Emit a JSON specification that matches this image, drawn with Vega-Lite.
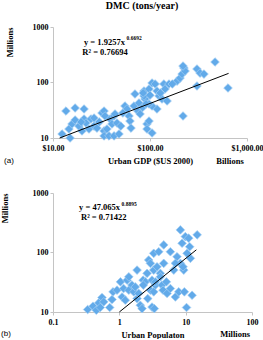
{
  "$schema": "https://vega.github.io/schema/vega-lite/v6.json",
  "padding": {"left": 0, "top": 1, "right": 0, "bottom": 0},
  "background": "white",
  "spacing": 23,
  "config": {
    "font": "Liberation Serif",
    "view": {"stroke": null},
    "axis": {
      "grid": false,
      "domainColor": "#c4c4c4",
      "tickColor": "#c4c4c4",
      "tickSize": 3,
      "labelFont": "Liberation Serif",
      "labelFontWeight": "bold",
      "labelFontSize": 8,
      "labelColor": "#000000",
      "titleFont": "Liberation Serif",
      "titleFontWeight": "bold",
      "titleFontSize": 8.5,
      "titleColor": "#000000",
      "labelFlush": false,
      "labelOverlap": false
    }
  },
  "vconcat": [
    {
      "width": 194,
      "height": 111,
      "title": {"text": "DMC (tons/year)", "font": "Liberation Serif", "fontSize": 10, "fontWeight": "bold", "color": "#000000", "offset": 12, "dx": -8},
      "layer": [
        {
          "data": {"values": [
            {"x": 12.4, "y": 11.8}, {"x": 15.0, "y": 10.0}, {"x": 13.6, "y": 30.6}, {"x": 14.6, "y": 14.5}, {"x": 15.7, "y": 17.9},
            {"x": 16.9, "y": 34.7}, {"x": 16.9, "y": 21.1}, {"x": 18.5, "y": 16.4}, {"x": 19.9, "y": 13.4}, {"x": 20.9, "y": 33.3},
            {"x": 20.9, "y": 22.0}, {"x": 21.9, "y": 18.6}, {"x": 23.5, "y": 14.5}, {"x": 24.6, "y": 22.0}, {"x": 26.5, "y": 16.4},
            {"x": 28.4, "y": 15.1}, {"x": 32.0, "y": 28.2}, {"x": 33.6, "y": 30.6}, {"x": 34.4, "y": 24.9}, {"x": 33.6, "y": 13.4},
            {"x": 33.6, "y": 10.9}, {"x": 36.0, "y": 14.5}, {"x": 37.8, "y": 10.9}, {"x": 38.7, "y": 22.0}, {"x": 40.6, "y": 17.9},
            {"x": 42.6, "y": 10.9}, {"x": 42.6, "y": 24.9}, {"x": 43.6, "y": 27.1}, {"x": 45.7, "y": 18.6}, {"x": 47.9, "y": 11.8},
            {"x": 55.2, "y": 37.7}, {"x": 57.9, "y": 33.3}, {"x": 60.8, "y": 24.9}, {"x": 62.2, "y": 20.2}, {"x": 63.7, "y": 15.1},
            {"x": 68.4, "y": 37.7}, {"x": 70.0, "y": 62.1}, {"x": 77.0, "y": 42.7}, {"x": 82.7, "y": 34.7}, {"x": 86.7, "y": 70.3},
            {"x": 88.8, "y": 50.4}, {"x": 93.1, "y": 17.9}, {"x": 97.7, "y": 20.2}, {"x": 93.1, "y": 14.5}, {"x": 105, "y": 12.3},
            {"x": 97.7, "y": 76.4}, {"x": 86.7, "y": 57.1}, {"x": 105, "y": 97.9}, {"x": 113, "y": 94.0}, {"x": 118, "y": 70.3},
            {"x": 124, "y": 57.1}, {"x": 133, "y": 50.4}, {"x": 139, "y": 94.0}, {"x": 143, "y": 76.4}, {"x": 157, "y": 94.0},
            {"x": 150, "y": 46.4}, {"x": 118, "y": 33.3}, {"x": 105, "y": 37.7}, {"x": 97.7, "y": 41.0}, {"x": 190, "y": 106},
            {"x": 204, "y": 120}, {"x": 214, "y": 142}, {"x": 224, "y": 182}, {"x": 230, "y": 161}, {"x": 219, "y": 198},
            {"x": 305, "y": 175}, {"x": 328, "y": 148}, {"x": 360, "y": 142}, {"x": 305, "y": 86.5}, {"x": 468, "y": 234},
            {"x": 637, "y": 79.6}, {"x": 219, "y": 24.9}, {"x": 75, "y": 30.6}, {"x": 79, "y": 27.1}, {"x": 91, "y": 41},
            {"x": 100, "y": 59}, {"x": 128, "y": 64.7}, {"x": 170, "y": 94}, {"x": 85, "y": 64.7}, {"x": 52.5, "y": 28.2},
            {"x": 50, "y": 16.4}, {"x": 30, "y": 19.4}, {"x": 26.5, "y": 22.9}, {"x": 19.5, "y": 19.4}
          ]},
          "mark": {"type": "point", "shape": "diamond", "filled": true, "size": 75, "fill": "#62aae9", "stroke": "#a3cff4", "strokeWidth": 0.7, "opacity": 1},
          "encoding": {
            "x": {"field": "x", "type": "quantitative", "scale": {"type": "log", "domain": [10, 1000]},
                  "axis": {"values": [10, 100, 1000], "format": "$,.2f", "title": "Urban GDP ($US 2000)", "labelPadding": 3, "titlePadding": 4}},
            "y": {"field": "y", "type": "quantitative", "scale": {"type": "log", "domain": [10, 1000]},
                  "axis": {"values": [10, 100, 1000], "format": "d", "title": "Millions", "titleAnchor": "end", "titlePadding": 18, "labelPadding": 2}}
          }
        },
        {
          "data": {"values": [{"x": 11.7, "y": 10.0}, {"x": 646, "y": 146}]},
          "mark": {"type": "line", "color": "#000000", "strokeWidth": 1},
          "encoding": {
            "x": {"field": "x", "type": "quantitative", "scale": {"type": "log", "domain": [10, 1000]}},
            "y": {"field": "y", "type": "quantitative", "scale": {"type": "log", "domain": [10, 1000]}}
          }
        },
        {
          "data": {"values": [{"x": 55.2, "y": 537, "t": "y = 1.9257x"}]},
          "mark": {"type": "text", "align": "right", "baseline": "middle", "font": "Liberation Serif", "fontWeight": "bold", "fontSize": 8.5, "color": "#000000"},
          "encoding": {
            "x": {"field": "x", "type": "quantitative", "scale": {"type": "log", "domain": [10, 1000]}},
            "y": {"field": "y", "type": "quantitative", "scale": {"type": "log", "domain": [10, 1000]}},
            "text": {"field": "t"}
          }
        },
        {
          "data": {"values": [{"x": 57.3, "y": 632, "t": "0.6692"}]},
          "mark": {"type": "text", "align": "left", "baseline": "middle", "font": "Liberation Serif", "fontWeight": "bold", "fontSize": 5.5, "color": "#000000"},
          "encoding": {
            "x": {"field": "x", "type": "quantitative", "scale": {"type": "log", "domain": [10, 1000]}},
            "y": {"field": "y", "type": "quantitative", "scale": {"type": "log", "domain": [10, 1000]}},
            "text": {"field": "t"}
          }
        },
        {
          "data": {"values": [{"x": 34.4, "y": 354, "t": "R² = 0.76694"}, {"x": 668, "y": 3.86, "t": "Billions"}]},
          "mark": {"type": "text", "align": "center", "baseline": "middle", "font": "Liberation Serif", "fontWeight": "bold", "fontSize": 8.5, "color": "#000000"},
          "encoding": {
            "x": {"field": "x", "type": "quantitative", "scale": {"type": "log", "domain": [10, 1000]}},
            "y": {"field": "y", "type": "quantitative", "scale": {"type": "log", "domain": [10, 1000]}},
            "text": {"field": "t"}
          }
        },
        {
          "data": {"values": [{"x": 3.52, "y": 3.86, "t": "(a)"}]},
          "mark": {"type": "text", "align": "center", "baseline": "middle", "font": "Liberation Sans", "fontSize": 8, "color": "#000000"},
          "encoding": {
            "x": {"field": "x", "type": "quantitative", "scale": {"type": "log", "domain": [10, 1000]}},
            "y": {"field": "y", "type": "quantitative", "scale": {"type": "log", "domain": [10, 1000]}},
            "text": {"field": "t"}
          }
        }
      ]
    },
    {
      "width": 199,
      "height": 119,
      "layer": [
        {
          "data": {"values": [
            {"x": 0.333, "y": 11.0}, {"x": 0.401, "y": 12.5}, {"x": 0.450, "y": 10.7}, {"x": 0.489, "y": 14.2}, {"x": 0.516, "y": 11.9},
            {"x": 0.548, "y": 17.5}, {"x": 0.582, "y": 14.8}, {"x": 0.716, "y": 11.9}, {"x": 0.776, "y": 16.2}, {"x": 0.804, "y": 21.8},
            {"x": 0.923, "y": 23.3}, {"x": 1.04, "y": 32.1}, {"x": 1.10, "y": 17.9}, {"x": 1.16, "y": 24.8}, {"x": 1.23, "y": 15.8},
            {"x": 1.31, "y": 34.3}, {"x": 1.39, "y": 23.3}, {"x": 1.39, "y": 39.0}, {"x": 1.55, "y": 28.3}, {"x": 1.65, "y": 21.8},
            {"x": 1.74, "y": 26.4}, {"x": 1.85, "y": 50.6}, {"x": 1.85, "y": 16.8}, {"x": 1.96, "y": 20.5}, {"x": 2.07, "y": 13.0},
            {"x": 2.20, "y": 11.4}, {"x": 2.28, "y": 34.3}, {"x": 2.47, "y": 32.1}, {"x": 2.62, "y": 44.6}, {"x": 2.68, "y": 16.8},
            {"x": 2.77, "y": 74.7}, {"x": 2.94, "y": 23.3}, {"x": 3.11, "y": 34.3}, {"x": 3.11, "y": 12.1}, {"x": 3.30, "y": 96.9},
            {"x": 3.30, "y": 50.6}, {"x": 3.49, "y": 28.3}, {"x": 3.37, "y": 11.4}, {"x": 2.94, "y": 65.7}, {"x": 3.70, "y": 57.5},
            {"x": 3.93, "y": 103}, {"x": 4.15, "y": 44.6}, {"x": 4.40, "y": 28.3}, {"x": 4.67, "y": 134}, {"x": 4.56, "y": 23.3},
            {"x": 5.12, "y": 32.1}, {"x": 5.24, "y": 20.5}, {"x": 5.88, "y": 103}, {"x": 6.62, "y": 50.6}, {"x": 7.00, "y": 17.9},
            {"x": 7.41, "y": 84.9}, {"x": 7.87, "y": 21.8}, {"x": 8.32, "y": 240}, {"x": 8.32, "y": 65.7}, {"x": 8.83, "y": 143},
            {"x": 9.36, "y": 50.6}, {"x": 9.56, "y": 21.8}, {"x": 9.89, "y": 185}, {"x": 10.3, "y": 11.9}, {"x": 10.5, "y": 96.9},
            {"x": 11.1, "y": 174}, {"x": 11.5, "y": 125}, {"x": 11.8, "y": 79.8}, {"x": 12.5, "y": 19.1}, {"x": 14.9, "y": 198},
            {"x": 4.67, "y": 65.7}, {"x": 3.30, "y": 21.8}, {"x": 3.49, "y": 32.1}, {"x": 9.14, "y": 57.5}, {"x": 7.0, "y": 65.7},
            {"x": 5.88, "y": 24.8}, {"x": 4.15, "y": 39.0}, {"x": 2.30, "y": 28.3}
          ]},
          "mark": {"type": "point", "shape": "diamond", "filled": true, "size": 75, "fill": "#62aae9", "stroke": "#a3cff4", "strokeWidth": 0.7, "opacity": 1},
          "encoding": {
            "x": {"field": "x", "type": "quantitative", "scale": {"type": "log", "domain": [0.1, 100]},
                  "axis": {"values": [0.1, 1, 10, 100], "format": "~g", "title": "Urban Populaton", "labelPadding": 3, "titlePadding": 4}},
            "y": {"field": "y", "type": "quantitative", "scale": {"type": "log", "domain": [10, 1000]},
                  "axis": {"values": [10, 100, 1000], "format": "d", "title": "Millions", "titleAnchor": "end", "titlePadding": 23, "labelPadding": 2}}
          }
        },
        {
          "data": {"values": [{"x": 1.0, "y": 10.0}, {"x": 14.5, "y": 111}]},
          "mark": {"type": "line", "color": "#000000", "strokeWidth": 1},
          "encoding": {
            "x": {"field": "x", "type": "quantitative", "scale": {"type": "log", "domain": [0.1, 100]}},
            "y": {"field": "y", "type": "quantitative", "scale": {"type": "log", "domain": [10, 1000]}}
          }
        },
        {
          "data": {"values": [{"x": 1.025, "y": 571, "t": "y = 47.065x"}]},
          "mark": {"type": "text", "align": "right", "baseline": "middle", "font": "Liberation Serif", "fontWeight": "bold", "fontSize": 8.5, "color": "#000000"},
          "encoding": {
            "x": {"field": "x", "type": "quantitative", "scale": {"type": "log", "domain": [0.1, 100]}},
            "y": {"field": "y", "type": "quantitative", "scale": {"type": "log", "domain": [10, 1000]}},
            "text": {"field": "t"}
          }
        },
        {
          "data": {"values": [{"x": 1.08, "y": 659, "t": "0.8895"}]},
          "mark": {"type": "text", "align": "left", "baseline": "middle", "font": "Liberation Serif", "fontWeight": "bold", "fontSize": 5.5, "color": "#000000"},
          "encoding": {
            "x": {"field": "x", "type": "quantitative", "scale": {"type": "log", "domain": [0.1, 100]}},
            "y": {"field": "y", "type": "quantitative", "scale": {"type": "log", "domain": [10, 1000]}},
            "text": {"field": "t"}
          }
        },
        {
          "data": {"values": [{"x": 0.582, "y": 394, "t": "R² = 0.71422"}, {"x": 55.6, "y": 4.2, "t": "Millions"}]},
          "mark": {"type": "text", "align": "center", "baseline": "middle", "font": "Liberation Serif", "fontWeight": "bold", "fontSize": 8.5, "color": "#000000"},
          "encoding": {
            "x": {"field": "x", "type": "quantitative", "scale": {"type": "log", "domain": [0.1, 100]}},
            "y": {"field": "y", "type": "quantitative", "scale": {"type": "log", "domain": [10, 1000]}},
            "text": {"field": "t"}
          }
        },
        {
          "data": {"values": [{"x": 0.0195, "y": 4.2, "t": "(b)"}]},
          "mark": {"type": "text", "align": "center", "baseline": "middle", "font": "Liberation Sans", "fontSize": 8, "color": "#000000"},
          "encoding": {
            "x": {"field": "x", "type": "quantitative", "scale": {"type": "log", "domain": [0.1, 100]}},
            "y": {"field": "y", "type": "quantitative", "scale": {"type": "log", "domain": [10, 1000]}},
            "text": {"field": "t"}
          }
        }
      ]
    }
  ]
}
